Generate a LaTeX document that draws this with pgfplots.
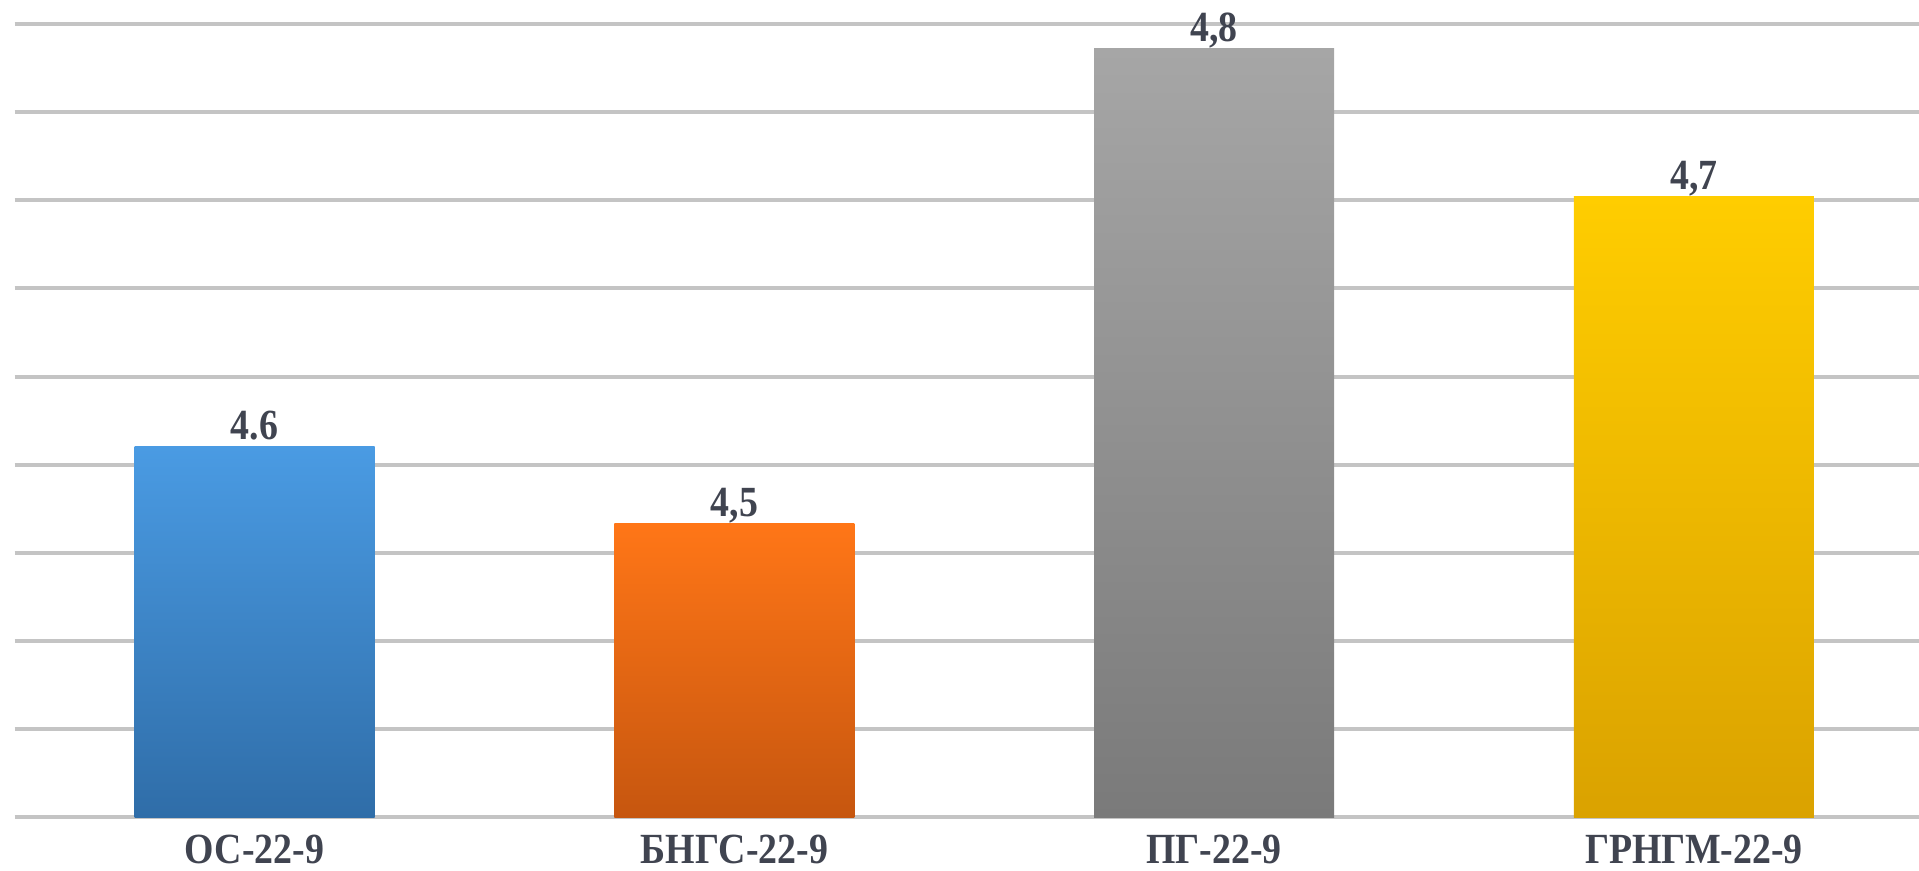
\documentclass[border=0pt]{standalone}
\usepackage{pgfplots}
\pgfplotsset{compat=1.18}
\usepackage{fontspec}
\setmainfont{Liberation Serif}
\newfontfamily\lab[FakeStretch=0.88]{Liberation Serif Bold}

\definecolor{txt}{HTML}{404450}
\definecolor{gridc}{HTML}{C4C4C4}
\definecolor{blueT}{HTML}{4A9BE3}
\definecolor{blueB}{HTML}{2F6DA8}
\definecolor{oranT}{HTML}{FF7617}
\definecolor{oranB}{HTML}{C6560F}
\definecolor{grayT}{HTML}{A6A6A6}
\definecolor{grayB}{HTML}{7A7A7A}
\definecolor{yellT}{HTML}{FFCD00}
\definecolor{yellB}{HTML}{DAA200}

% 1 px of the reference = 0.5pt
\begin{document}
\begin{tikzpicture}
\path[use as bounding box] (0,0) rectangle (959.5pt,435.5pt);
\begin{axis}[
    at={(7.3pt,26.75pt)}, anchor=south west,
    scale only axis,
    width=952.2pt, height=396.75pt,
    xmin=-0.5, xmax=3.469,
    ymin=0, ymax=9,
    ybar, bar width=120pt,
    axis line style={draw=none},
    major tick length=0pt,
    ytick={0,1,...,9}, yticklabels={},
    ymajorgrids, xmajorgrids=false,
    y grid style={gridc, line width=2pt},
    xtick={0,1,2,3},
    xticklabels={ОС-22-9, БНГС-22-9, ПГ-22-9, ГРНГМ-22-9},
    xticklabel style={font=\lab\fontsize{21.5pt}{24pt}\selectfont, text=txt, anchor=base, yshift=-23pt},
    point meta=explicit symbolic,
    nodes near coords,
    nodes near coords style={font=\lab\fontsize{21.5pt}{24pt}\selectfont, text=txt, anchor=base, yshift=3.5pt},
    clip=false,
]
\addplot[bar shift=0pt, draw=none, top color=blueT, bottom color=blueB]
    table[meta=lab] {x y lab
0 4.21 4.6
};
\addplot[bar shift=0pt, draw=none, top color=oranT, bottom color=oranB]
    table[meta=lab] {x y lab
1 3.33 4,5
};
\addplot[bar shift=0pt, draw=none, top color=grayT, bottom color=grayB]
    table[meta=lab] {x y lab
2 8.72 4,8
};
\addplot[bar shift=0pt, draw=none, top color=yellT, bottom color=yellB]
    table[meta=lab] {x y lab
3 7.04 4,7
};
\end{axis}
\end{tikzpicture}
\end{document}
